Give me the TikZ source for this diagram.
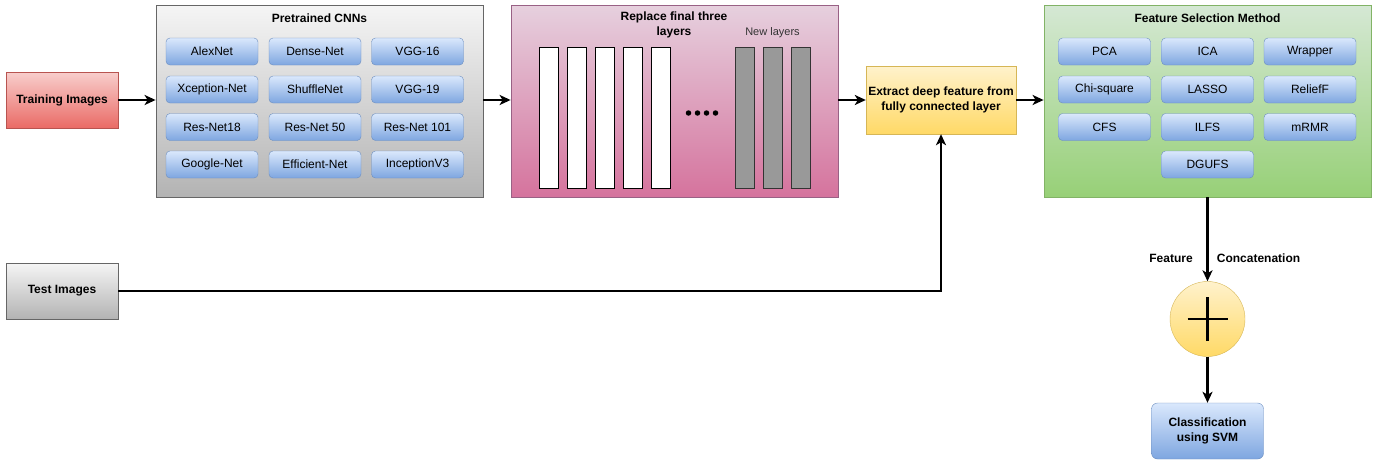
\documentclass[tikz,border=0pt]{standalone}
\usepackage{fontspec}
\setmainfont{Liberation Sans}
\usetikzlibrary{arrows.meta,positioning}

\definecolor{redTop}{HTML}{F8CECC}
\definecolor{redBot}{HTML}{EA6B66}
\definecolor{redLine}{HTML}{B85450}
\definecolor{grayTop}{HTML}{F5F5F5}
\definecolor{grayBot}{HTML}{B3B3B3}
\definecolor{grayLine}{HTML}{666666}
\definecolor{blueTop}{HTML}{DAE8FC}
\definecolor{blueBot}{HTML}{7EA6E0}
\definecolor{blueLine}{HTML}{6C8EBF}
\definecolor{pinkTop}{HTML}{E6D0DE}
\definecolor{pinkBot}{HTML}{D5739D}
\definecolor{pinkLine}{HTML}{996185}
\definecolor{yelTop}{HTML}{FFF2CC}
\definecolor{yelBot}{HTML}{FFD966}
\definecolor{yelLine}{HTML}{D6B656}
\definecolor{greenTop}{HTML}{D5E8D4}
\definecolor{greenBot}{HTML}{97D077}
\definecolor{greenLine}{HTML}{82B366}
\definecolor{layerGray}{HTML}{999999}

\tikzset{
  base/.style={inner sep=0pt, align=center, font=\fontsize{12}{14}\selectfont},
  redbox/.style={base, draw=redLine, top color=redTop, bottom color=redBot, font=\fontsize{12}{14}\selectfont\bfseries},
  graybox/.style={base, draw=grayLine, top color=grayTop, bottom color=grayBot, font=\fontsize{12}{14}\selectfont\bfseries},
  group/.style={base, line width=0.8pt},
  cnngroup/.style={group, draw=grayLine, top color=grayTop, bottom color=grayBot},
  pinkgroup/.style={group, draw=pinkLine, top color=pinkTop, bottom color=pinkBot},
  greengroup/.style={group, draw=greenLine, top color=greenTop, bottom color=greenBot},
  item/.style={base, draw=blueLine, top color=blueTop, bottom color=blueBot, rounded corners=4pt,
    minimum width=92pt, minimum height=27pt},
  title/.style={base, font=\fontsize{12}{15}\selectfont\bfseries},
  whitebar/.style={draw=black, fill=white, minimum width=19pt, minimum height=141pt, inner sep=0pt},
  graybar/.style={draw=black!80, fill=layerGray, minimum width=19pt, minimum height=141pt, inner sep=0pt},
  dotnode/.style={circle, fill=black, minimum size=5.5pt, inner sep=0pt},
  yelbox/.style={base, draw=yelLine, top color=yelTop, bottom color=yelBot, font=\fontsize{12}{15}\selectfont\bfseries},
  bluebox/.style={base, draw=blueLine, top color=blueTop, bottom color=blueBot, rounded corners=6pt,
    font=\fontsize{12}{15}\selectfont\bfseries},
  arr/.style={line width=2.2pt, -{Stealth[length=11pt,width=10pt,inset=3pt]}},
  lbl/.style={base, font=\fontsize{12}{14}\selectfont\bfseries}
}

\begin{document}
\begin{tikzpicture}[x=1pt,y=-1pt]
\useasboundingbox (0,0) rectangle (1381,463);

% inputs
\node[redbox, minimum width=112pt, minimum height=56pt] (train) at (62,100) {Training Images};
\node[graybox, minimum width=112pt, minimum height=56pt] (test) at (62,291) {Test Images};

% pretrained networks
\node[cnngroup, minimum width=327pt, minimum height=192pt] (cnn) at (319.5,101) {};
\node[title] (cnnT) at (319.5,18) {Pretrained CNNs};
\node[item] (c11) at (212,51.5) {AlexNet};
\node[item] (c12) at (315,51.5) {Dense-Net};
\node[item] (c13) at (417.5,51.5) {VGG-16};
\node[item] (c21) at (212,89.5) {Xception-Net};
\node[item] (c22) at (315,89.5) {ShuffleNet};
\node[item] (c23) at (417.5,89.5) {VGG-19};
\node[item] (c31) at (212,127) {Res-Net18};
\node[item] (c32) at (315,127) {Res-Net 50};
\node[item] (c33) at (417.5,127) {Res-Net 101};
\node[item] (c41) at (212,164.5) {Google-Net};
\node[item] (c42) at (315,164.5) {Efficient-Net};
\node[item] (c43) at (417.5,164.5) {InceptionV3};

% layer replacement
\node[pinkgroup, minimum width=327pt, minimum height=192pt] (rep) at (674.5,101) {};
\node[title] (repT) at (674,24.5) {Replace final three\\layers};
\node[whitebar] (w1) at (548.5,117.5) {};
\node[whitebar] (w2) at (576.5,117.5) {};
\node[whitebar] (w3) at (604.5,117.5) {};
\node[whitebar] (w4) at (632.5,117.5) {};
\node[whitebar] (w5) at (660.5,117.5) {};
\node[dotnode] (d1) at (688.5,113) {};
\node[dotnode] (d2) at (697.5,113) {};
\node[dotnode] (d3) at (706.5,113) {};
\node[dotnode] (d4) at (715.5,113) {};
\node[graybar] (g1) at (744.5,117.5) {};
\node[graybar] (g2) at (772.5,117.5) {};
\node[graybar] (g3) at (800.5,117.5) {};
\node[base, font=\fontsize{11}{13}\selectfont, text=black!80] (newT) at (772.5,33) {New layers};

% deep feature extraction
\node[yelbox, minimum width=150pt, minimum height=68pt] (ext) at (941,100) {Extract deep feature from\\fully connected layer};

% feature selection
\node[greengroup, minimum width=327pt, minimum height=192pt] (fsm) at (1207.5,101) {};
\node[title] (fsmT) at (1207.5,18) {Feature Selection Method};
\node[item] (f11) at (1104.5,51.5) {PCA};
\node[item] (f12) at (1207.5,51.5) {ICA};
\node[item] (f13) at (1310,51.5) {Wrapper};
\node[item] (f21) at (1104.5,89.5) {Chi-square};
\node[item] (f22) at (1207.5,89.5) {LASSO};
\node[item] (f23) at (1310,89.5) {ReliefF};
\node[item] (f31) at (1104.5,127) {CFS};
\node[item] (f32) at (1207.5,127) {ILFS};
\node[item] (f33) at (1310,127) {mRMR};
\node[item] (f42) at (1207.5,164.5) {DGUFS};

% concatenation and classifier
\node[circle, draw=yelLine, top color=yelTop, bottom color=yelBot, minimum size=75pt, inner sep=0pt] (plus) at (1207.5,319) {};
\draw[line width=2.4pt] ([xshift=-20pt]plus.center) -- ([xshift=20pt]plus.center);
\draw[line width=2.4pt] ([yshift=-22pt]plus.center) -- ([yshift=22pt]plus.center);
\node[bluebox, minimum width=112pt, minimum height=56pt] (svm) at (1207.5,431) {Classification\\using SVM};
\node[lbl] (featL) at (1171,258) {Feature};
\node[lbl] (concL) at (1258.5,258) {Concatenation};

% connectors
\draw[arr] (train.east) -- (cnn.west |- train.east);
\draw[arr] (cnn.east |- train.east) -- (rep.west |- train.east);
\draw[arr] (rep.east |- ext.west) -- (ext.west);
\draw[arr] (ext.east) -- (fsm.west |- ext.east);
\draw[arr] (test.east) -| (ext.south);
\draw[arr] (fsm.south) -- (plus.north);
\draw[arr] (plus.south) -- (svm.north);
\end{tikzpicture}
\end{document}
